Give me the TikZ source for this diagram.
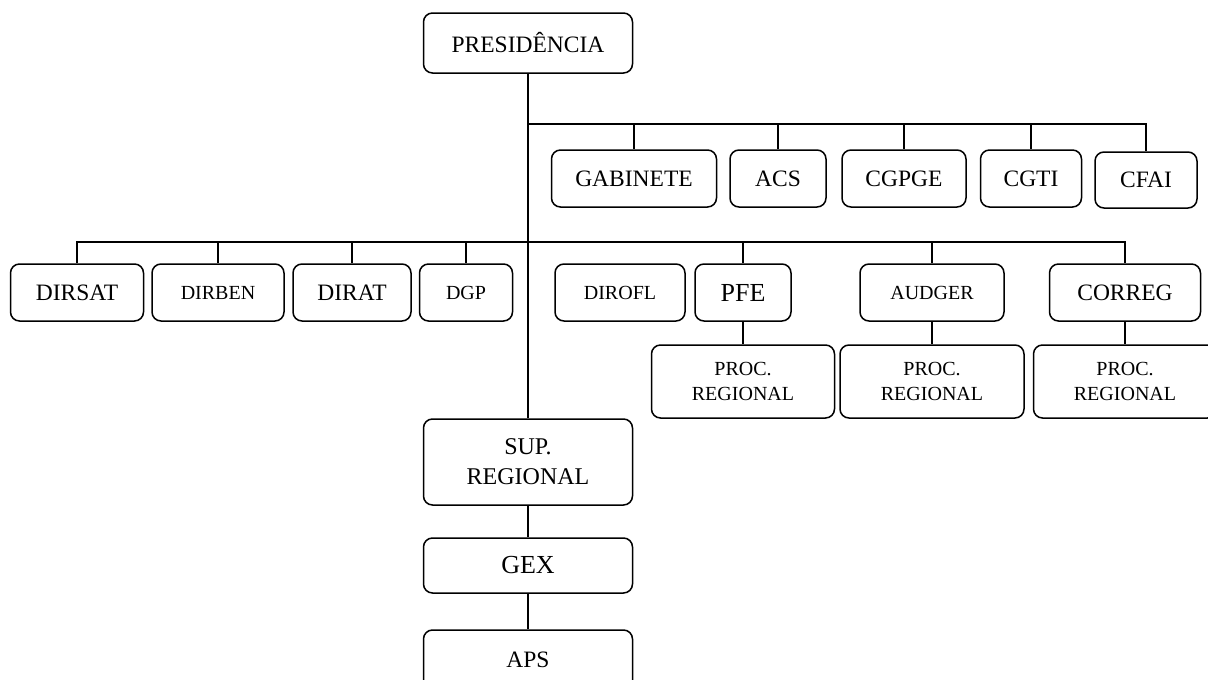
\documentclass[tikz,border=0pt]{standalone}
\usepackage{fontspec}
\setmainfont{Liberation Serif}
\usetikzlibrary{positioning}
\tikzstyle{unit} = [draw, rounded corners=9pt, line width=1.5pt, inner sep=0pt, align=center, font=\fontsize{23.5}{27}\selectfont]
\tikzstyle{smalltxt} = [font=\fontsize{20}{25}\selectfont]
\tikzstyle{bigtxt} = [font=\fontsize{26}{30}\selectfont]
\tikzstyle{link} = [draw, line width=1.5pt]

\begin{document}
\begin{tikzpicture}[
      x=1pt, y=-1pt
    ]
      \useasboundingbox (0,0) rectangle (1208,680);
      % top
      \node (pres)   [unit, minimum width=209pt, minimum height=60pt] at (528,43)    {PRESIDÊNCIA};
      % advisory row
      \node (gab)    [unit, minimum width=165pt, minimum height=57pt] at (634,178.5)  {GABINETE};
      \node (acs)    [unit, minimum width=96pt,  minimum height=57pt] at (778,178.5)  {ACS};
      \node (cgpge)  [unit, minimum width=124pt, minimum height=57pt] at (904,178.5)  {CGPGE};
      \node (cgti)   [unit, minimum width=101pt, minimum height=57pt] at (1031,178.5) {CGTI};
      \node (cfai)   [unit, minimum width=102pt, minimum height=56pt] at (1146,180)   {CFAI};
      % directorates
      \node (dirsat) [unit, minimum width=133pt, minimum height=57pt] at (77,292.5)   {DIRSAT};
      \node (dirben) [unit, smalltxt, minimum width=132pt, minimum height=57pt] at (218,292.5) {DIRBEN};
      \node (dirat)  [unit, minimum width=118pt, minimum height=57pt] at (352,292.5)  {DIRAT};
      \node (dgp)    [unit, smalltxt, minimum width=93pt,  minimum height=57pt] at (466,292.5) {DGP};
      \node (dirofl) [unit, smalltxt, minimum width=130pt, minimum height=57pt] at (620,292.5) {DIROFL};
      \node (pfe)    [unit, bigtxt, minimum width=96pt,  minimum height=57pt] at (743,292.5)   {PFE};
      \node (audger) [unit, smalltxt, minimum width=144pt, minimum height=57pt] at (932,292.5) {AUDGER};
      \node (correg) [unit, minimum width=151pt, minimum height=57pt] at (1125,292.5) {CORREG};
      % regional offices
      \node (proc1)  [unit, smalltxt, minimum width=183pt, minimum height=73pt] at (743,381.5)  {PROC.\\REGIONAL};
      \node (proc2)  [unit, smalltxt, minimum width=184pt, minimum height=73pt] at (932,381.5)  {PROC.\\REGIONAL};
      \node (proc3)  [unit, smalltxt, minimum width=183pt, minimum height=73pt] at (1125,381.5) {PROC.\\REGIONAL};
      \node (sup)    [unit, font=\fontsize{24}{30}\selectfont, minimum width=209pt, minimum height=86pt] at (528,462) {SUP.\\REGIONAL};
      \node (gex)    [unit, bigtxt, minimum width=209pt, minimum height=55pt] at (528,565.5) {GEX};
      \node (aps)    [unit, minimum width=209pt, minimum height=60pt] at (528,660) {APS};
      % buses
      \coordinate (topbus) at (528,124);
      \coordinate (lowbus) at (528,242);
      \draw[link] (pres)   -- (sup);
      \draw[link] (topbus) -| (gab.north);
      \draw[link] (topbus) -| (acs.north);
      \draw[link] (topbus) -| (cgpge.north);
      \draw[link] (topbus) -| (cgti.north);
      \draw[link] (topbus) -| (cfai.north);
      \draw[link] (lowbus) -| (dirsat.north);
      \draw[link] (lowbus) -| (dirben.north);
      \draw[link] (lowbus) -| (dirat.north);
      \draw[link] (lowbus) -| (dgp.north);
      \draw[link] (lowbus) -| (pfe.north);
      \draw[link] (lowbus) -| (audger.north);
      \draw[link] (lowbus) -| (correg.north);
      \draw[link] (pfe)    -- (proc1);
      \draw[link] (audger) -- (proc2);
      \draw[link] (correg) -- (proc3);
      \draw[link] (sup)    -- (gex);
      \draw[link] (gex)    -- (aps);
    \end{tikzpicture}
\end{document}
